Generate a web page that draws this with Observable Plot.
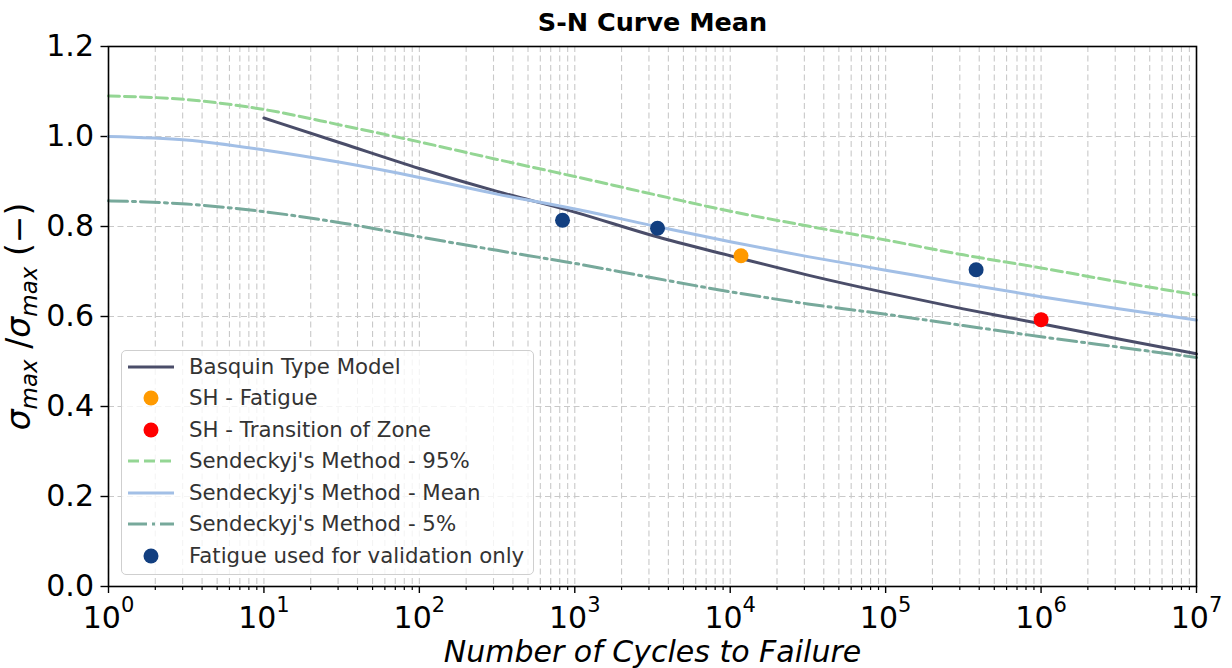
<!DOCTYPE html>
<html><head><meta charset="utf-8">
<script src="https://cdn.jsdelivr.net/npm/d3@7"></script>
<script src="https://cdn.jsdelivr.net/npm/@observablehq/plot@0.6"></script>
<style>
body{margin:0;background:#fff;font-family:"DejaVu Sans",sans-serif;}
#wrap{position:relative;width:1232px;height:668px;}
#legend{position:absolute;left:121px;top:350px;width:413px;height:225px;box-sizing:border-box;border:1px solid #cfcfcf;border-radius:5px;background:rgba(255,255,255,0.8);}
.row{position:absolute;left:0;height:30px;width:400px;}
.row svg{position:absolute;left:0;top:0;}
.row span{position:absolute;left:67px;top:0;line-height:30px;font-size:21.3px;color:#333;white-space:nowrap;}
</style></head><body><div id="wrap"><div id="legend"></div></div>
<script>
// ---- data ----
const cyclesGrid = [1, 3.16, 10, 31.6, 100, 316, 1000, 3160, 1e4, 3.16e4, 1e5, 3.16e5, 1e6, 3.16e6, 1e7];
const sendeckyj95   = [1.090,1.082,1.060,1.025,0.988,0.949,0.911,0.872,0.834,0.801,0.770,0.737,0.708,0.677,0.648];
const sendeckyjMean = [1.000,0.992,0.970,0.942,0.909,0.872,0.839,0.802,0.766,0.733,0.703,0.673,0.644,0.617,0.592];
const sendeckyj5    = [0.857,0.850,0.833,0.808,0.777,0.747,0.718,0.686,0.655,0.628,0.605,0.580,0.555,0.532,0.509];
const basquinCycles = [10, 31.6, 100, 316, 1000, 3160, 1e4, 3.16e4, 1e5, 3.16e5, 1e6, 3.16e6, 1e7];
const basquinValues = [1.041,0.985,0.929,0.878,0.832,0.780,0.735,0.692,0.653,0.617,0.584,0.550,0.517];
const shFatigueCycles = [11730];
const shFatigueValues = [0.735];
const shTransitionCycles = [1.0e6];
const shTransitionValues = [0.593];
const validationCycles = [834, 3406, 382000];
const validationValues = [0.814, 0.796, 0.704];
const xMajorTicks = [1, 10, 100, 1e3, 1e4, 1e5, 1e6, 1e7];
const xMajorLabels = ["10^0","10^1","10^2","10^3","10^4","10^5","10^6","10^7"];
const yTicks = [0, 0.2, 0.4, 0.6, 0.8, 1.0, 1.2];
const yTickLabels = ["0.0","0.2","0.4","0.6","0.8","1.0","1.2"];
const titleText = "S-N Curve Mean";
const xLabelText = "Number of Cycles to Failure";
const seriesNames = ["Basquin Type Model","SH - Fatigue","SH - Transition of Zone","Sendeckyj's Method - 95%","Sendeckyj's Method - Mean","Sendeckyj's Method - 5%","Fatigue used for validation only"];

// ---- styles ----
const C = {basquin:"#4a4d69", orange:"#ff9a00", red:"#ff0000", green:"#94d694", mean:"#a2bfe6", teal:"#77a99b", navy:"#123f80"};
const dash95 = "11,5", dash5 = "19,5,3,5";

const xMinorTicks = [];
for (let e = 0; e < 7; e++) for (let m = 2; m <= 9; m++) xMinorTicks.push(m * Math.pow(10, e));
const xAllTicks = xMajorTicks.concat(xMinorTicks);
const xLab = new Map(xMajorTicks.map((v, i) => [v, xMajorLabels[i]]));
const yLab = new Map(yTicks.map((v, i) => [v, yTickLabels[i]]));

const tbl = (xs, ys) => xs.map((n, i) => ({n, v: ys[i]}));
const grid = {stroke:"#c9c9c9", strokeOpacity:1, strokeDasharray:"6,3.5", strokeWidth:1.1};

const chart = Plot.plot({
  width:1232, height:668, marginLeft:108, marginRight:36, marginTop:46, marginBottom:82,
  style:{fontFamily:"DejaVu Sans", background:"transparent", color:"black"},
  x:{type:"log", domain:[1, 1e7]},
  y:{domain:[0, 1.2]},
  marks:[
    Plot.gridX({ticks: xAllTicks, ...grid}),
    Plot.gridY({ticks: yTicks, ...grid}),
    Plot.axisX({ticks: xMinorTicks, tickSize:4, tickFormat: () => "", label:null, strokeWidth:1.2}),
    Plot.axisX({ticks: xMajorTicks, tickSize:7, tickPadding:13, fontSize:30, tickFormat: d => xLab.get(d), label:null, strokeWidth:1.4}),
    Plot.axisY({ticks: yTicks, tickSize:7.5, tickPadding:7, fontSize:30, tickFormat: d => yLab.get(d), label:null, strokeWidth:1.4}),
    Plot.line(tbl(basquinCycles, basquinValues), {x:"n", y:"v", stroke:C.basquin, strokeWidth:3, curve:"monotone-x"}),
    Plot.dot(tbl(shFatigueCycles, shFatigueValues), {x:"n", y:"v", r:7.5, fill:C.orange}),
    Plot.dot(tbl(shTransitionCycles, shTransitionValues), {x:"n", y:"v", r:7.5, fill:C.red}),
    Plot.line(tbl(cyclesGrid, sendeckyj95), {x:"n", y:"v", stroke:C.green, strokeWidth:3, strokeDasharray:dash95, curve:"monotone-x"}),
    Plot.line(tbl(cyclesGrid, sendeckyjMean), {x:"n", y:"v", stroke:C.mean, strokeWidth:3, curve:"monotone-x"}),
    Plot.line(tbl(cyclesGrid, sendeckyj5), {x:"n", y:"v", stroke:C.teal, strokeWidth:3, strokeDasharray:dash5, curve:"monotone-x"}),
    Plot.dot(tbl(validationCycles, validationValues), {x:"n", y:"v", r:7.5, fill:C.navy}),
    Plot.frame({stroke:"black", strokeWidth:1.6}),
    Plot.text([titleText], {frameAnchor:"top", dy:-24, fontSize:25.5, fontWeight:"bold", lineAnchor:"middle", fill:"black"}),
    Plot.text([xLabelText], {frameAnchor:"bottom", dy:66, fontSize:30, fontStyle:"italic", lineAnchor:"middle", fill:"black"}),
    Plot.text(["YLABEL"], {frameAnchor:"left", dx:-89, rotate:-90, fontSize:33, textAnchor:"middle", lineAnchor:"middle", fill:"black"})
  ]
});
document.getElementById("wrap").insertBefore(chart, document.getElementById("legend"));

// superscripts / subscripts
const svg = d3.select(chart);
svg.selectAll("text").each(function(){
  const s = this.textContent;
  if (/^10\^\d$/.test(s)) {
    const [b, e] = s.split("^");
    const t = d3.select(this); t.text(null);
    t.append("tspan").text(b);
    t.append("tspan").attr("dy", "-16px").attr("font-size", "21px").text(e);
  } else if (s === "YLABEL") {
    const t = d3.select(this); t.text(null);
    const parts = [
      {s:"σ", it:true},
      {s:"max", it:true, sub:true},
      {s:" /", back:true},
      {s:"σ", it:true},
      {s:"max", it:true, sub:true},
      {s:" (−)", back:true}
    ];
    parts.forEach(p => {
      const ts = t.append("tspan").text(p.s);
      if (p.it) ts.attr("font-style", "italic");
      if (p.sub) ts.attr("font-size", "23px").attr("dy", "7px");
      if (p.back) ts.attr("dy", "-7px");
    });
  }
});

// legend
const legendItems = [
  {type:"line", color:C.basquin, dash:null},
  {type:"dot", color:C.orange},
  {type:"dot", color:C.red},
  {type:"line", color:C.green, dash:dash95},
  {type:"line", color:C.mean, dash:null},
  {type:"line", color:C.teal, dash:dash5},
  {type:"dot", color:C.navy}
];
const lg = d3.select("#legend");
legendItems.forEach((it, i) => {
  const row = lg.append("div").attr("class", "row").style("top", (0.7 + i * 31.55) + "px");
  const s = row.append("svg").attr("width", 60).attr("height", 30);
  if (it.type === "line") {
    const l = s.append("line").attr("x1", 6).attr("x2", 52).attr("y1", 15).attr("y2", 15)
      .attr("stroke", it.color).attr("stroke-width", 3);
    if (it.dash) l.attr("stroke-dasharray", it.dash);
  } else {
    s.append("circle").attr("cx", 29).attr("cy", 15).attr("r", 7.5).attr("fill", it.color);
  }
  row.append("span").text(seriesNames[i]);
});
</script></body></html>
